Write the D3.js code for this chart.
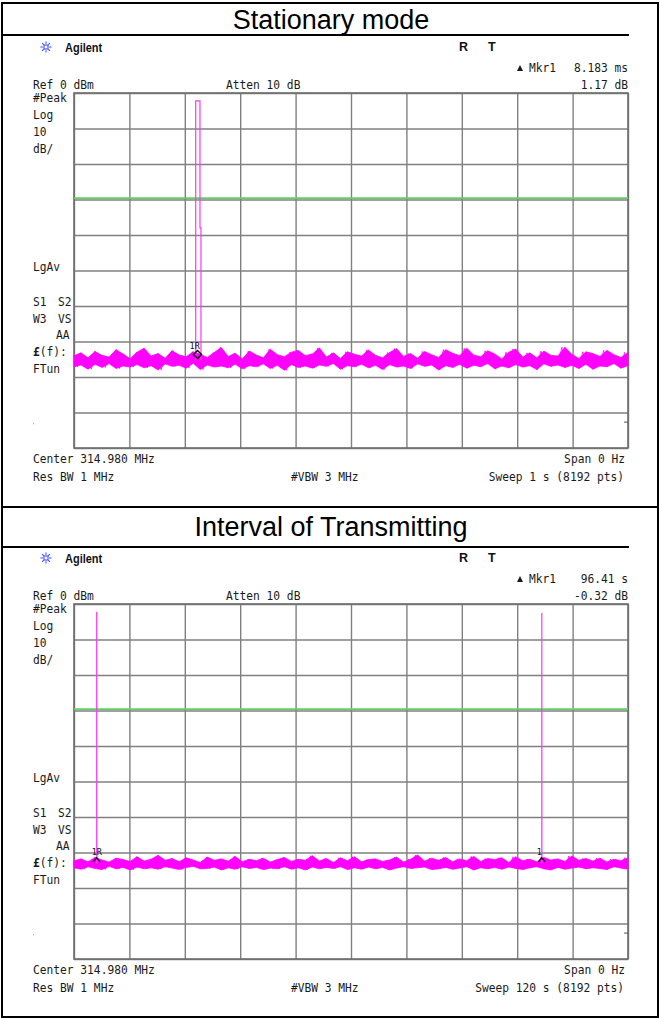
<!DOCTYPE html>
<html>
<head>
<meta charset="UTF-8">
<title>Stationary mode / Interval of Transmitting</title>
<script src="https://d3js.org/d3.v7.min.js"></script>
<style>
body { margin: 0; background: #fff; }
text.mono { font-family: "DejaVu Sans Mono", monospace; font-size: 12.5px; fill: #1a1a1a; }
text.title { font-family: "Liberation Sans", Arial, sans-serif; font-size: 27px; fill: #000; }
text.brand { font-family: "Liberation Sans", Arial, sans-serif; font-size: 12.5px; font-weight: bold; fill: #111; }
</style>
</head>
<body>
<svg id="chart" width="660" height="1018"></svg>
<script>
// --- data ---
var titles = ["Stationary mode", "Interval of Transmitting"];
var sweeps = [1, 120];                       // sweep time, s
var sweepLabels = ["Sweep 1 s (8192 pts)", "Sweep 120 s (8192 pts)"];
var mkrTime = ["8.183 ms", "96.41 s"];
var mkrAmp = ["1.17 dB", "-0.32 dB"];
var refLevel = 0, dbPerDiv = 10;             // dBm, dB
var displayLine = -29.6;                     // green display line, dBm

// noise floor, dBm, as (peak, trough) pairs evenly spaced over the sweep
var noise1 = [
 -74.0,-77.1,-73.2,-76.6,-74.6,-77.8,-72.8,-76.4,-73.9,-77.3,
 -74.4,-76.2,-72.3,-77.6,-73.5,-76.9,-74.8,-77.2,-73.0,-76.5,
 -71.9,-77.4,-74.1,-76.8,-73.4,-78.0,-74.7,-76.3,-72.6,-77.0,
 -73.8,-76.7,-74.3,-77.5,-72.9,-76.1,-73.6,-77.9,-74.5,-76.6,
 -73.1,-77.2,-71.7,-76.9,-74.2,-77.4,-73.3,-76.4,-74.9,-77.7,
 -72.7,-76.8,-73.8,-77.1,-74.6,-76.3,-72.2,-77.6,-73.7,-76.7,
 -74.3,-78.1,-73.0,-76.5,-72.5,-77.3,-74.0,-76.9,-73.5,-77.5,
 -71.8,-76.6,-74.4,-77.0,-73.2,-76.2,-74.8,-77.8,-72.9,-76.8,
 -73.6,-77.1,-74.1,-76.4,-72.4,-77.4,-73.9,-76.7,-74.6,-77.9,
 -73.1,-76.5,-72.0,-77.2,-74.2,-76.9,-73.4,-77.6,-74.7,-76.3,
 -72.8,-77.0,-73.7,-76.6,-74.5,-78.0,-72.3,-76.8,-73.3,-77.3,
 -74.0,-76.4,-71.9,-77.5,-73.8,-76.7,-74.3,-77.1,-72.6,-76.2,
 -73.5,-77.7,-74.9,-76.9,-73.0,-77.4,-72.1,-76.5,-74.4,-77.2,
 -73.2,-76.8,-74.6,-77.9,-72.7,-76.3,-73.9,-77.0,-74.1,-76.6,
 -71.6,-77.3,-73.6,-76.7,-74.8,-77.6,-72.9,-76.4,-73.4,-77.8,
 -74.2,-76.9,-72.5,-77.1,-73.7,-76.2,-74.5,-77.5,-73.1,-76.8];
var noise2 = [
 -72.3,-74.3,-71.8,-74.7,-72.6,-74.0,-71.4,-74.5,-72.1,-74.8,
 -72.7,-73.9,-71.6,-74.6,-72.0,-74.2,-72.5,-74.9,-71.2,-74.1,
 -72.4,-74.6,-71.9,-74.3,-70.8,-74.7,-72.2,-74.0,-71.7,-74.4,
 -72.6,-74.8,-71.5,-74.2,-72.1,-73.9,-72.8,-74.6,-71.3,-74.5,
 -72.2,-74.1,-71.8,-74.9,-72.4,-74.3,-71.1,-74.7,-72.6,-74.0,
 -71.9,-74.5,-72.3,-74.2,-71.6,-74.8,-72.7,-74.4,-72.0,-74.6,
 -71.4,-74.0,-72.5,-74.7,-71.9,-74.3,-72.2,-74.9,-70.9,-74.1,
 -72.4,-74.6,-71.7,-74.2,-72.8,-74.5,-71.5,-74.0,-72.3,-74.8,
 -71.2,-74.3,-72.6,-74.7,-72.0,-74.1,-71.8,-74.6,-72.5,-74.2,
 -72.1,-74.9,-71.3,-74.4,-72.7,-74.0,-71.9,-74.5,-70.7,-74.3,
 -72.4,-74.1,-71.6,-74.8,-72.2,-74.6,-71.4,-74.2,-72.6,-74.7,
 -71.8,-74.4,-72.3,-74.0,-71.1,-74.9,-72.5,-74.3,-71.7,-74.6,
 -72.0,-74.2,-71.5,-74.7,-72.8,-74.1,-71.2,-74.5,-72.3,-74.8,
 -71.9,-74.3,-72.6,-74.0,-71.4,-74.6,-72.1,-74.9,-71.8,-74.2,
 -72.5,-74.7,-71.0,-74.4,-72.2,-74.1,-71.7,-74.6,-72.4,-74.3,
 -71.6,-74.5,-72.7,-74.8,-71.9,-74.0,-72.3,-74.4,-71.5,-74.7];

// bursts: [time s, level dBm]
var burst1 = [[0.2197,-75.3],[0.2197,-2.2],[0.2274,-2.2],[0.2274,-38.0],[0.2292,-38.0],[0.2292,-75.3]];
var burst2a = [[4.92,-73.2],[4.92,-2.2],[4.94,-73.2]];
var burst2b = [[101.33,-73.2],[101.33,-2.5],[101.35,-73.2]];

// markers: [time s, level dBm, label]
var markers1 = [[0.2230, -74.5, "1R"]];
var markers2 = [[4.92, -73.2, "1R"], [101.33, -73.2, "1"]];

var panels = [
  { off: 0,   title: titles[0], titleY: 29,  sweep: sweeps[0], sweepLabel: sweepLabels[0], mt: mkrTime[0], ma: mkrAmp[0],
    noise: noise1, bursts: [burst1], markers: markers1, mkShape: "diamond" },
  { off: 511, title: titles[1], titleY: 536, sweep: sweeps[1], sweepLabel: sweepLabels[1], mt: mkrTime[1], ma: mkrAmp[1],
    noise: noise2, bursts: [burst2a, burst2b], markers: markers2, mkShape: "caret" }
];

var svg = d3.select("#chart");
var gridL = 74, gridT = 93, gridW = 554, gridH = 355;

// frame
svg.append("rect").attr("x", 2).attr("y", 3).attr("width", 656).attr("height", 1014)
  .attr("fill", "none").attr("stroke", "#000").attr("stroke-width", 2);
[[35, 629], [507, 658], [547, 629]].forEach(function(l) {
  svg.append("line").attr("x1", 2).attr("x2", l[1]).attr("y1", l[0]).attr("y2", l[0])
    .attr("stroke", "#000").attr("stroke-width", 2);
});

function mono(g, x, y, str, anchor) {
  return g.append("text").attr("class", "mono")
    .attr("transform", "translate(" + x + "," + y + ") scale(0.9,1)")
    .attr("text-anchor", anchor || "start").text(str);
}

panels.forEach(function(p) {
  svg.append("text").attr("class", "title").attr("x", 331).attr("y", p.titleY)
    .attr("text-anchor", "middle").text(p.title);

  var g = svg.append("g").attr("transform", "translate(0," + p.off + ")");

  // agilent star
  var star = g.append("g").attr("transform", "translate(46,47)").attr("stroke", "#4d5cff").attr("stroke-width", 1.2);
  d3.range(8).forEach(function(k) {
    var a = k * Math.PI / 4;
    star.append("line").attr("x1", Math.cos(a) * 3.2).attr("y1", Math.sin(a) * 3.2)
      .attr("x2", Math.cos(a) * 5.5).attr("y2", Math.sin(a) * 5.5);
  });
  star.append("rect").attr("x", -2).attr("y", -2).attr("width", 4).attr("height", 4).attr("fill", "none");
  g.append("text").attr("class", "brand").attr("transform", "translate(65,52) scale(0.88,1)").text("Agilent");
  g.append("text").attr("class", "brand").attr("x", 459).attr("y", 51).text("R");
  g.append("text").attr("class", "brand").attr("x", 488).attr("y", 51).text("T");

  // header texts
  g.append("path").attr("d", "M517,71 L520,65 L523,71 Z").attr("fill", "#1a1a1a");
  mono(g, 529, 72, "Mkr1");
  mono(g, 628, 72, p.mt, "end");
  mono(g, 628, 89, p.ma, "end");
  mono(g, 33, 89, "Ref 0 dBm");
  mono(g, 226, 89, "Atten 10 dB");

  // left annotations
  [["#Peak", 102], ["Log", 119], ["10", 136], ["dB/", 153], ["LgAv", 271],
   ["S1", 306], ["W3", 323], ["FTun", 373]].forEach(function(t) { mono(g, 33, t[1], t[0]); });
  mono(g, 58, 306, "S2");
  mono(g, 58, 323, "VS");
  mono(g, 56, 339, "AA");
  g.append("text").attr("class", "mono").attr("transform", "translate(33,356) scale(0.9,1)")
    .html('<tspan font-weight="bold">£</tspan>(f):');

  // footer texts
  mono(g, 33, 463, "Center 314.980 MHz");
  mono(g, 33, 481, "Res BW 1 MHz");
  mono(g, 291, 481, "#VBW 3 MHz");
  mono(g, 625, 463, "Span 0 Hz", "end");
  mono(g, 624, 481, p.sweepLabel, "end");

  // scales
  var x = d3.scaleLinear().domain([0, p.sweep]).range([gridL, gridL + gridW]);
  var y = d3.scaleLinear().domain([refLevel - 10 * dbPerDiv, refLevel]).range([gridT + gridH, gridT]);

  // graticule
  var gx = g.append("g").attr("transform", "translate(0," + (gridT + gridH) + ")")
    .call(d3.axisBottom(x).tickValues(d3.range(11).map(function(i) { return p.sweep * i / 10; }))
      .tickSize(-gridH).tickFormat(""));
  var gy = g.append("g").attr("transform", "translate(" + gridL + ",0)")
    .call(d3.axisLeft(y).tickValues(d3.range(-100, 1, dbPerDiv)).tickSize(-gridW).tickFormat(""));
  [gx, gy].forEach(function(a) {
    a.select(".domain").remove();
    a.selectAll("line").attr("stroke", "#808080").attr("stroke-width", 1.4);
  });
  g.append("rect").attr("x", gridL).attr("y", gridT).attr("width", gridW).attr("height", gridH)
    .attr("fill", "none").attr("stroke", "#6e6e6e").attr("stroke-width", 1.6);
  g.append("line").attr("x1", gridL + gridW - 4).attr("x2", gridL + gridW).attr("y1", y(-92.7)).attr("y2", y(-92.7))
    .attr("stroke", "#555").attr("stroke-width", 1);
  g.append("rect").attr("x", 33).attr("y", y(-93)).attr("width", 1).attr("height", 1).attr("fill", "#999");

  // display line
  g.append("line").attr("x1", x(0)).attr("x2", x(p.sweep)).attr("y1", y(displayLine)).attr("y2", y(displayLine))
    .attr("stroke", "#5fd35f").attr("stroke-width", 1.6);

  // trace: noise band between peaks and troughs
  var pairs = d3.range(p.noise.length / 2).map(function(i) { return [p.noise[2 * i], p.noise[2 * i + 1]]; });
  var xi = d3.scaleLinear().domain([0, pairs.length - 1]).range([0, p.sweep]);
  var band = d3.area()
    .x(function(d, i) { return x(xi(i)); })
    .y0(function(d) { return y(d[1]); })
    .y1(function(d) { return y(d[0]); });
  g.append("path").datum(pairs).attr("d", band)
    .attr("fill", "#ff00ff").attr("stroke", "#ff00ff").attr("stroke-width", 0.8);
  var xn = d3.scaleLinear().domain([0, p.noise.length - 1]).range([0, p.sweep]);
  var noiseLine = d3.line().x(function(d, i) { return x(xn(i)); }).y(function(d) { return y(d); });
  g.append("path").datum(p.noise).attr("d", noiseLine)
    .attr("fill", "none").attr("stroke", "#ff00ff").attr("stroke-width", 0.8);

  var burstLine = d3.line().x(function(d) { return x(d[0]); }).y(function(d) { return y(d[1]); });
  p.bursts.forEach(function(b) {
    g.append("path").datum(b).attr("d", burstLine)
      .attr("fill", "none").attr("stroke", "#ff33ff").attr("stroke-width", 1.2);
  });

  // markers
  p.markers.forEach(function(m) {
    var mx = x(m[0]), my = y(m[1]);
    if (p.mkShape === "diamond") {
      g.append("path").attr("d", "M" + (mx - 4) + "," + (my - 3) + " L" + mx + "," + (my - 7) + " L" + (mx + 4) + "," + (my - 3) + " L" + mx + "," + (my + 1) + " Z")
        .attr("fill", "none").attr("stroke", "#111").attr("stroke-width", 1.5);
      g.append("text").attr("x", mx - 8).attr("y", my - 8).attr("font-family", "DejaVu Sans Mono")
        .attr("font-size", 8.5).attr("fill", "#111").text(m[2]);
    } else {
      g.append("path").attr("d", "M" + (mx - 3.5) + "," + (my - 2) + " L" + mx + "," + (my - 6) + " L" + (mx + 3.5) + "," + (my - 2))
        .attr("fill", "none").attr("stroke", "#111").attr("stroke-width", 1.4);
      g.append("text").attr("x", mx - 5).attr("y", my - 9).attr("font-family", "DejaVu Sans Mono")
        .attr("font-size", 8.5).attr("fill", "#111").text(m[2]);
    }
  });
});
</script>
</body>
</html>
